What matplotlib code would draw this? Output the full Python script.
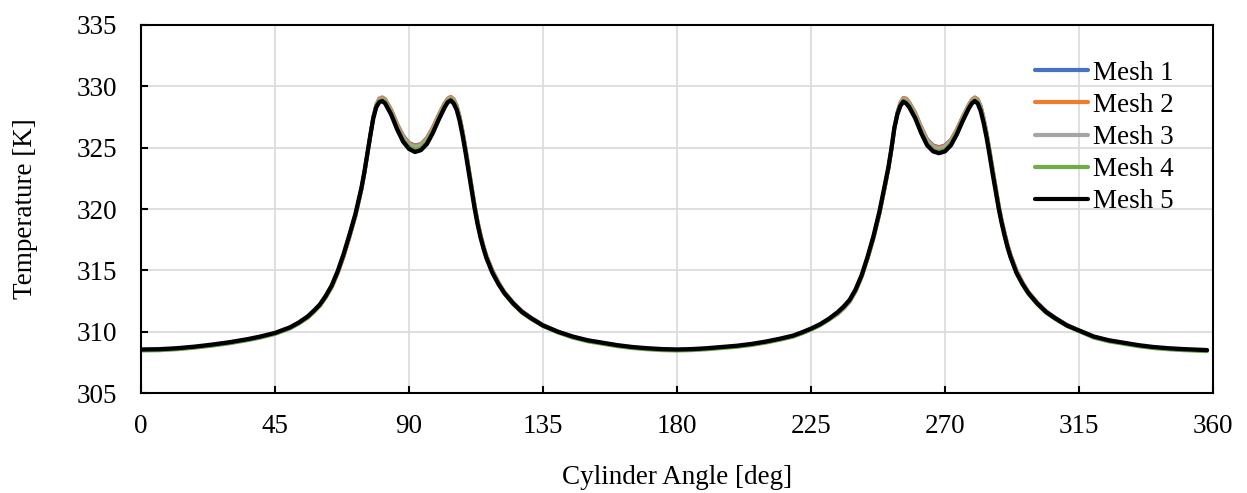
import matplotlib
matplotlib.use("Agg")
import matplotlib.pyplot as plt

plt.rcParams['font.family'] = ['Liberation Serif', 'DejaVu Serif']

# cylinder angle [deg]
angle = [0, 6, 12, 18, 24, 30, 36, 40, 45, 50, 53, 56, 58, 60, 62, 64, 66, 68, 70, 72, 74, 75, 76, 77, 78, 79,
         80, 81, 82, 84, 86, 88, 90, 92, 94, 96, 98, 100, 102, 103, 104, 105, 106, 107, 108, 109,
         110, 111, 112, 113, 114, 115, 116, 118, 120, 122, 125, 128, 131, 135, 140, 145, 150, 155, 160, 165, 170, 175, 180,
         185, 190, 195, 200, 205, 210, 215, 219, 222, 225, 228, 231, 234, 236, 238, 240, 242, 244, 246, 248, 250, 251,
         252, 253, 254, 255, 256, 257, 258, 260, 262, 264, 266, 268, 270, 272, 274, 276, 278, 279, 280, 281,
         282, 283, 284, 285, 286, 287, 288, 289, 290, 291, 292, 294, 296, 298, 301, 304, 307, 311, 316, 320, 325, 330, 335, 340, 345, 350, 358]

mesh1 = [308.50, 308.52, 308.60, 308.73, 308.90, 309.10, 309.35, 309.55, 309.85, 310.30, 310.68, 311.15, 311.60, 312.10, 312.78, 313.60, 314.72, 316.10, 317.70, 319.40, 321.55, 322.90, 324.45, 326.00, 327.50, 328.50,
         329.00, 329.10, 328.95, 328.10, 326.95, 326.00, 325.40, 325.20, 325.30, 325.80, 326.65, 327.70, 328.65, 329.00, 329.15, 328.95, 328.45, 327.55, 326.35, 324.95,
         323.45, 321.90, 320.40, 319.05, 317.95, 317.00, 316.20, 315.00, 314.05, 313.25, 312.38, 311.66, 311.14, 310.55, 310.00, 309.58, 309.26, 309.05, 308.86, 308.70, 308.60, 308.53, 308.50,
         308.53, 308.60, 308.70, 308.80, 308.95, 309.15, 309.40, 309.63, 309.90, 310.20, 310.55, 311.00, 311.45, 311.90, 312.45, 313.30, 314.45, 315.95, 317.60, 319.60, 322.00, 323.30,
         324.85, 326.60, 327.85, 328.65, 329.05, 329.00, 328.70, 327.85, 326.70, 325.70, 325.20, 325.05, 325.20, 325.65, 326.50, 327.55, 328.50, 328.90, 329.10, 328.95,
         328.40, 327.40, 326.20, 324.75, 323.25, 321.80, 320.40, 319.15, 318.10, 317.10, 316.30, 315.00, 314.05, 313.25, 312.38, 311.66, 311.14, 310.55, 310.00, 309.58, 309.26, 309.05, 308.86, 308.70, 308.60, 308.53, 308.45]

mesh2 = [308.50, 308.52, 308.60, 308.73, 308.90, 309.10, 309.35, 309.55, 309.85, 310.30, 310.68, 311.15, 311.60, 312.10, 312.78, 313.60, 314.72, 316.10, 317.70, 319.40, 321.55, 322.90, 324.45, 326.00, 327.50, 328.50,
         329.00, 329.10, 328.95, 328.10, 326.95, 325.95, 325.35, 325.15, 325.25, 325.75, 326.65, 327.70, 328.65, 329.00, 329.15, 328.95, 328.45, 327.55, 326.35, 324.95,
         323.45, 321.90, 320.40, 319.05, 317.95, 317.00, 316.20, 315.00, 314.05, 313.25, 312.38, 311.66, 311.14, 310.55, 310.00, 309.58, 309.26, 309.05, 308.86, 308.70, 308.60, 308.53, 308.50,
         308.53, 308.60, 308.70, 308.80, 308.95, 309.15, 309.40, 309.63, 309.90, 310.20, 310.55, 311.00, 311.45, 311.90, 312.45, 313.30, 314.45, 315.95, 317.60, 319.60, 322.00, 323.30,
         324.85, 326.60, 327.85, 328.65, 329.05, 329.00, 328.70, 327.85, 326.70, 325.65, 325.15, 325.00, 325.15, 325.60, 326.50, 327.55, 328.50, 328.90, 329.10, 328.95,
         328.40, 327.40, 326.20, 324.75, 323.25, 321.80, 320.40, 319.15, 318.10, 317.10, 316.30, 315.00, 314.05, 313.25, 312.38, 311.66, 311.14, 310.55, 310.00, 309.58, 309.26, 309.05, 308.86, 308.70, 308.60, 308.53, 308.45]

mesh3 = [308.50, 308.52, 308.60, 308.73, 308.90, 309.10, 309.35, 309.55, 309.85, 310.30, 310.70, 311.20, 311.65, 312.15, 312.85, 313.68, 314.82, 316.20, 317.80, 319.45, 321.60, 322.95, 324.45, 326.00, 327.45, 328.40,
         328.90, 329.00, 328.85, 327.95, 326.80, 325.85, 325.25, 325.05, 325.15, 325.65, 326.50, 327.55, 328.55, 328.90, 329.05, 328.85, 328.35, 327.45, 326.25, 324.85,
         323.35, 321.80, 320.30, 318.95, 317.85, 316.95, 316.15, 314.95, 314.00, 313.22, 312.35, 311.64, 311.12, 310.55, 310.00, 309.58, 309.26, 309.05, 308.86, 308.70, 308.60, 308.53, 308.50,
         308.53, 308.60, 308.70, 308.80, 308.95, 309.15, 309.40, 309.63, 309.90, 310.20, 310.55, 311.00, 311.50, 311.95, 312.50, 313.35, 314.50, 316.00, 317.70, 319.70, 322.05, 323.30,
         324.85, 326.55, 327.80, 328.55, 328.95, 328.90, 328.60, 327.75, 326.55, 325.55, 325.05, 324.90, 325.05, 325.50, 326.35, 327.45, 328.40, 328.80, 329.00, 328.85,
         328.30, 327.30, 326.10, 324.65, 323.15, 321.70, 320.30, 319.05, 318.00, 317.00, 316.20, 314.95, 314.00, 313.22, 312.35, 311.64, 311.12, 310.55, 310.00, 309.58, 309.26, 309.05, 308.86, 308.70, 308.60, 308.53, 308.45]

mesh4 = [308.45, 308.47, 308.55, 308.68, 308.85, 309.05, 309.30, 309.50, 309.80, 310.25, 310.65, 311.15, 311.60, 312.10, 312.82, 313.68, 314.85, 316.25, 317.85, 319.50, 321.65, 322.95, 324.50, 326.00, 327.45, 328.35,
         328.80, 328.90, 328.75, 327.85, 326.65, 325.70, 325.10, 324.85, 325.00, 325.50, 326.35, 327.45, 328.45, 328.80, 328.95, 328.75, 328.25, 327.35, 326.15, 324.75,
         323.25, 321.70, 320.20, 318.85, 317.75, 316.85, 316.05, 314.85, 313.90, 313.10, 312.22, 311.52, 311.02, 310.45, 309.92, 309.50, 309.20, 309.00, 308.80, 308.65, 308.55, 308.48, 308.45,
         308.48, 308.55, 308.65, 308.75, 308.90, 309.10, 309.35, 309.58, 309.85, 310.15, 310.50, 310.95, 311.50, 311.95, 312.50, 313.35, 314.50, 316.00, 317.75, 319.75, 322.10, 323.30,
         324.85, 326.55, 327.75, 328.45, 328.85, 328.75, 328.45, 327.55, 326.35, 325.35, 324.85, 324.70, 324.85, 325.35, 326.25, 327.35, 328.30, 328.70, 328.90, 328.75,
         328.15, 327.15, 325.95, 324.50, 323.00, 321.60, 320.20, 318.95, 317.90, 316.90, 316.10, 314.80, 313.85, 313.08, 312.22, 311.52, 311.02, 310.45, 309.92, 309.50, 309.20, 309.00, 308.80, 308.65, 308.55, 308.48, 308.40]

mesh5 = [308.55, 308.57, 308.65, 308.78, 308.95, 309.15, 309.40, 309.60, 309.90, 310.35, 310.75, 311.25, 311.70, 312.20, 312.90, 313.75, 314.90, 316.30, 317.90, 319.60, 321.70, 323.00, 324.50, 326.00, 327.40, 328.30,
         328.70, 328.80, 328.60, 327.70, 326.50, 325.50, 324.90, 324.65, 324.80, 325.30, 326.20, 327.30, 328.30, 328.70, 328.85, 328.60, 328.10, 327.20, 326.00, 324.60,
         323.10, 321.60, 320.10, 318.80, 317.70, 316.80, 316.00, 314.80, 313.90, 313.15, 312.30, 311.60, 311.10, 310.50, 310.00, 309.60, 309.30, 309.10, 308.90, 308.75, 308.65, 308.58, 308.55,
         308.58, 308.65, 308.75, 308.85, 309.00, 309.20, 309.45, 309.68, 309.95, 310.25, 310.60, 311.05, 311.60, 312.05, 312.60, 313.45, 314.60, 316.10, 317.80, 319.80, 322.20, 323.40,
         324.90, 326.60, 327.70, 328.40, 328.75, 328.60, 328.30, 327.40, 326.20, 325.20, 324.70, 324.55, 324.70, 325.20, 326.10, 327.20, 328.20, 328.60, 328.80, 328.60,
         328.00, 327.00, 325.80, 324.40, 322.90, 321.50, 320.10, 318.90, 317.85, 316.90, 316.10, 314.80, 313.90, 313.15, 312.30, 311.60, 311.10, 310.50, 310.00, 309.60, 309.30, 309.10, 308.90, 308.75, 308.65, 308.58, 308.50]

series = [mesh1, mesh2, mesh3, mesh4, mesh5]
labels = ['Mesh 1', 'Mesh 2', 'Mesh 3', 'Mesh 4', 'Mesh 5']
colors = ['#4472C4', '#ED7D31', '#A5A5A5', '#70AD47', '#000000']
widths = [2.7, 2.7, 2.7, 2.7, 3.1]

fig = plt.figure(figsize=(12.47, 4.93), dpi=100)
ax = fig.add_axes([0.1131, 0.2028, 0.8596, 0.7465])

for vals, lab, col, lw in zip(series, labels, colors, widths):
    ax.plot(angle, vals, color=col, lw=lw, label=lab,
            solid_joinstyle='round', solid_capstyle='round')

ax.set_xlim(0, 360)
ax.set_ylim(305, 335)
ax.set_xticks(range(0, 361, 45))
ax.set_yticks(range(305, 336, 5))
ax.grid(True, color='#d9d9d9', lw=1.2)
ax.set_axisbelow(True)
for sp in ax.spines.values():
    sp.set_linewidth(1.5)
    sp.set_color('black')
ax.tick_params(direction='in', length=5, width=1.5, labelsize=19.5)
ax.tick_params(axis='x', pad=15)
ax.tick_params(axis='y', pad=17)

ax.set_xlabel('Cylinder Angle [deg]', fontsize=19.5, labelpad=19)
ax.set_ylabel('Temperature [K]', fontsize=19.5, labelpad=28)

leg = ax.legend(loc='upper left', bbox_to_anchor=(0.834, 0.903), frameon=False,
                fontsize=19.5, borderpad=0, borderaxespad=0, handlelength=1.96,
                handletextpad=0.19, labelspacing=0.265)
for h in leg.get_lines():
    h.set_linewidth(3)

fig.savefig('out.png', dpi=100)
